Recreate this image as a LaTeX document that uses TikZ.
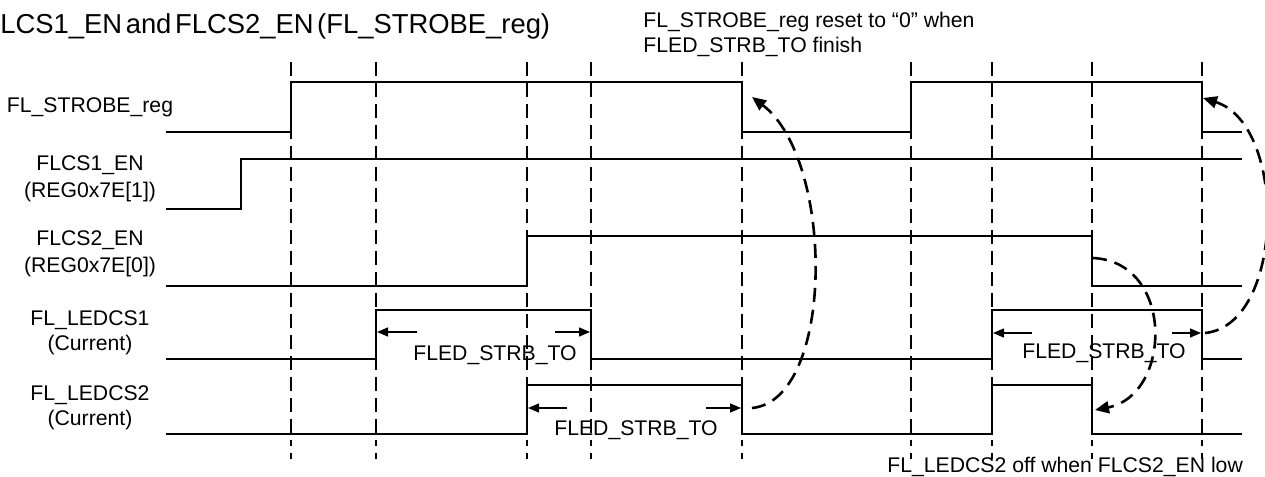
\documentclass[tikz,border=0pt]{standalone}
\usepackage{fontspec}
\setmainfont{Liberation Sans}
\usetikzlibrary{arrows.meta}
\tikzset{
  tsig/.style={line width=0.75pt},
  guide/.style={line width=1.35pt, dash pattern=on 7pt off 3.5pt},
  dimarrow/.style={line width=0.7pt, -{Triangle[length=5.5pt,width=4.5pt]}},
  causearrow/.style={line width=1.3pt, dash pattern=on 7pt off 4pt, -{Triangle[length=7pt,width=6pt]}},
  lbl/.style={inner sep=0pt, font=\fontsize{10.6}{12}\selectfont}
}

\begin{document}
\begin{tikzpicture}[x=0.5pt,y=-0.5pt]
\useasboundingbox (0,0) rectangle (1265,477);
\foreach \gx in {291,376,527,591,742,911,992,1092,1202} {
  \draw[guide] (\gx,62) -- (\gx,446);
  \draw[line width=1.35pt] (\gx,453) -- (\gx,459);
}
\draw[tsig] (166,132) -| (291,82) -| (742,132) -| (911,82) -| (1202,132) -- (1242,132);
\draw[tsig] (166,209) -| (241,159) -- (1242,159);
\draw[tsig] (166,286) -| (527,236) -| (1092,286) -- (1242,286);
\draw[tsig] (166,359) -| (376,310) -| (591,359) -| (992,310) -| (1202,359) -- (1242,359);
\draw[tsig] (166,434) -| (527,385) -| (742,434) -| (992,385) -| (1092,434) -- (1242,434);
\node[inner sep=0pt, anchor=base west, font=\fontsize{13.7}{16}\selectfont] (title) at (0,33) {\spaceskip=0.13em\relax LCS1\_EN and FLCS2\_EN (FL\_STROBE\_reg)};
\node[lbl, anchor=base west] (noteA) at (643,27) {FL\_STROBE\_reg reset to “0” when};
\node[lbl, anchor=base west] (noteB) at (643,52) {FLED\_STRB\_TO finish};
\node[lbl, anchor=base west] (noteC) at (887,472) {FL\_LEDCS2 off when FLCS2\_EN low};
\node[lbl, anchor=base] (strobe) at (90,112) {FL\_STROBE\_reg};
\node[lbl, anchor=base] (csA) at (90,170) {FLCS1\_EN};
\node[lbl, anchor=base] (csAreg) at (90,197) {(REG0x7E[1])};
\node[lbl, anchor=base] (csB) at (90,245) {FLCS2\_EN};
\node[lbl, anchor=base] (csBreg) at (90,272) {(REG0x7E[0])};
\node[lbl, anchor=base] (ledA) at (90,325) {FL\_LEDCS1};
\node[lbl, anchor=base] (ledAcur) at (90,350) {(Current)};
\node[lbl, anchor=base] (ledB) at (90,400) {FL\_LEDCS2};
\node[lbl, anchor=base] (ledBcur) at (90,425) {(Current)};
\node[lbl, anchor=base] (toA) at (495,360) {FLED\_STRB\_TO};
\node[lbl, anchor=base] (toB) at (636,435) {FLED\_STRB\_TO};
\node[lbl, anchor=base] (toC) at (1104,358) {FLED\_STRB\_TO};
\draw[dimarrow] (417,332) -- (377,332);
\draw[dimarrow] (555,332) -- (590,332);
\draw[dimarrow] (567,408) -- (528,408);
\draw[dimarrow] (706,408) -- (741,408);
\draw[dimarrow] (1032,333) -- (993,333);
\draw[dimarrow] (1172,333) -- (1201,333);
\draw[causearrow] (752,408) .. controls (835,400) and (835,160) .. (752,97);
\draw[causearrow] (1205,333) .. controls (1285,325) and (1288,125) .. (1203,98);
\draw[causearrow] (1093,258) .. controls (1175,262) and (1172,395) .. (1095,410);
\end{tikzpicture}
\end{document}
